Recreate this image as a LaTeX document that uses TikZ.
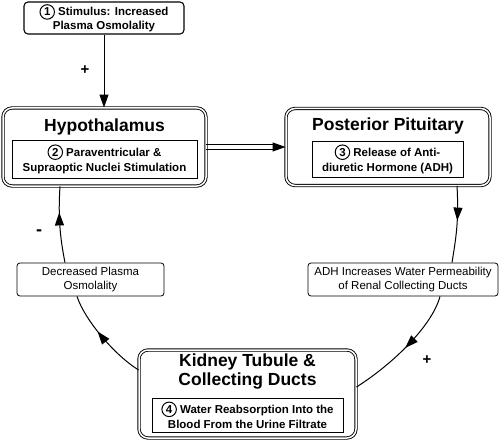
\documentclass[tikz,border=0pt]{standalone}
\usepackage{fontspec}
\setmainfont{Liberation Sans}
\usetikzlibrary{arrows.meta,decorations.markings,calc}
\newcommand\cnum[1]{\tikz[baseline=(cn.base)]\node[circle,draw,line width=1pt,inner sep=0.5pt,minimum size=14.5pt,font=\fontsize{11.5}{11.5}\selectfont\bfseries](cn){#1};}
\begin{document}
\begin{tikzpicture}[x=1pt,y=-1pt,
  bigbox/.style={draw, double, double distance=1.5pt, line width=0.9pt, rounded corners=9pt, inner sep=0pt},
  inbox/.style={draw, line width=1pt, inner sep=0pt, align=center, font=\bfseries\fontsize{11.5}{15}\selectfont},
  stimbox/.style={draw, line width=1.1pt, rounded corners=4pt, inner sep=0pt, align=center, font=\bfseries\fontsize{11.5}{13.5}\selectfont},
  smallbox/.style={draw, line width=0.8pt, rounded corners=3pt, inner sep=0pt, align=center, font=\fontsize{11.5}{14}\selectfont},
  ttl/.style={font=\bfseries\fontsize{17.5}{19}\selectfont, align=center, inner sep=0pt},
  sign/.style={font=\bfseries\fontsize{15}{15}\selectfont, inner sep=0pt},
  conn/.style={line width=1pt},
  tipped/.style={-{Triangle[length=13pt,width=9pt]}},
  midarrow/.style={postaction={decorate}, decoration={markings, mark=at position #1 with {\arrow{Triangle[length=13pt,width=9pt]}}}}
]
\useasboundingbox (0,0) rectangle (500,441);

% stimulus
\node[stimbox, minimum width=160pt, minimum height=32pt] (stim) at (104,18) {\cnum{1} Stimulus: Increased\\Plasma Osmolality};

% hypothalamus
\node[bigbox, minimum width=203pt, minimum height=78pt] (hypo) at (104.5,147) {};
\node[ttl] (hypot) at (104.5,127) {Hypothalamus};
\node[inbox, minimum width=185pt, minimum height=38pt] (hypoin) at (104.5,159) {\cnum{2} Paraventricular \&\\Supraoptic Nuclei Stimulation};

% posterior pituitary
\node[bigbox, minimum width=204pt, minimum height=77pt] (pp) at (388,147) {};
\node[ttl] (ppt) at (388,126) {Posterior Pituitary};
\node[inbox, minimum width=151pt, minimum height=36pt] (ppin) at (387.5,159) {\cnum{3} Release of Anti-\\diuretic Hormone (ADH)};

% ADH box
\node[smallbox, minimum width=190pt, minimum height=33pt] (adh) at (403,279.5) {ADH Increases Water Permeability\\of Renal Collecting Ducts};

% decreased box
\node[smallbox, minimum width=147pt, minimum height=33pt] (dec) at (90.5,279.5) {Decreased Plasma\\Osmolality};

% kidney
\node[bigbox, minimum width=217pt, minimum height=88pt] (kid) at (247.5,394) {};
\node[ttl] (kidt) at (247.5,372) {Kidney Tubule \&\\Collecting Ducts};
\node[inbox, minimum width=191pt, minimum height=34pt] (kidin) at (247.5,415) {\cnum{4} Water Reabsorption Into the\\Blood From the Urine Filtrate};

% connectors
\draw[conn, tipped] (stim.south) -- (stim.south |- hypo.north);
\node[sign] (p1) at (85,70) {+};

\draw[line width=0.9pt] ([yshift=2.2pt]hypo.east) -- ([yshift=2.2pt,xshift=-11pt]pp.west);
\draw[line width=0.9pt] ([yshift=-2.2pt]hypo.east) -- ([yshift=-2.2pt,xshift=-11pt]pp.west);
\draw[conn, tipped] ([xshift=-12pt]pp.west) -- (pp.west);

\draw[conn, midarrow=0.45] ([xshift=69pt]pp.south) .. controls +(2,35) and +(4,-25) .. ([xshift=49pt]adh.north);
\draw[conn, midarrow=0.5] ([xshift=37pt]adh.south) .. controls +(-8,30) and +(35,-22) .. ([yshift=7pt]kid.east);
\node[sign] (p2) at (427,360) {+};

\draw[conn, midarrow=0.58] ([yshift=24pt]kid.west) .. controls +(-24,-15) and +(8,24) .. ([xshift=-13.5pt]dec.south);
\draw[conn, midarrow=0.66] ([xshift=-25.5pt]dec.north) .. controls +(-5,-25) and +(-2,30) .. ([xshift=-44.5pt]hypo.south);
\node[sign, font=\bfseries\fontsize{18}{18}\selectfont] (m1) at (39,233) {-};
\end{tikzpicture}
\end{document}
